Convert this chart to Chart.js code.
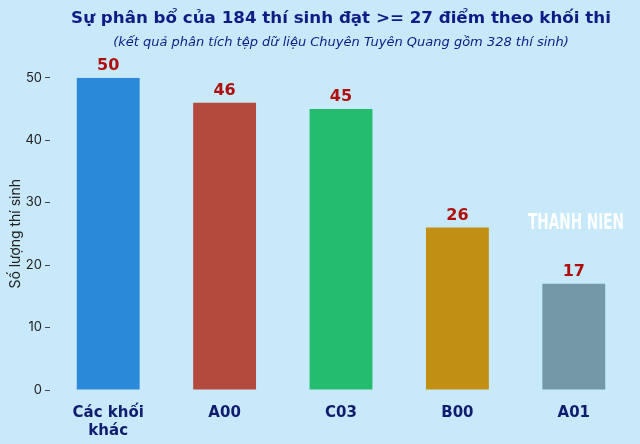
<!DOCTYPE html>
<html><head><meta charset="utf-8">
<script src="https://cdn.jsdelivr.net/npm/chart.js@4/dist/chart.umd.min.js"></script>
<style>html,body{margin:0;padding:0;background:#c7e9f9;}#w{width:640px;height:444px;}</style>
</head><body><div id="w"><canvas id="c"></canvas></div>
<script>
const categories = [['Các khối','khác'], 'A00', 'C03', 'B00', 'A01'];
const counts = [50, 46, 45, 26, 17];
const barColors = ['#2a8ad9', '#b4493d', '#24bd6d', '#c08f14', '#7598a9'];
const yTicks = [0, 10, 20, 30, 40, 50];
const titleText = 'Sự phân bổ của 184 thí sinh đạt >= 27 điểm theo khối thi';
const subtitleText = '(kết quả phân tích tệp dữ liệu Chuyên Tuyên Quang gồm 328 thí sinh)';

const valueLabels = {
  id: 'valueLabels',
  afterDatasetsDraw(chart) {
    const ctx = chart.ctx;
    const meta = chart.getDatasetMeta(0);
    ctx.save();
    ctx.font = 'bold 16px "DejaVu Sans"';
    ctx.fillStyle = '#b00d0d';
    ctx.textAlign = 'center';
    ctx.textBaseline = 'bottom';
    meta.data.forEach((bar, i) => {
      ctx.fillText(String(counts[i]), bar.x, bar.y - 4);
    });
    // watermark
    const a = chart.chartArea;
    ctx.font = 'bold 22px "DejaVu Sans Condensed"';
    ctx.fillStyle = 'rgba(255,255,255,0.95)';
    ctx.textAlign = 'center';
    ctx.textBaseline = 'middle';
    ctx.fillText('THANH NIEN', a.right - 56, chart.scales.y.getPixelForValue(26.7), 96);
    ctx.restore();
  }
};

new Chart(document.getElementById('c'), {
  type: 'bar',
  data: {
    labels: categories,
    datasets: [{ data: counts, backgroundColor: barColors, barPercentage: 0.54, categoryPercentage: 1 }]
  },
  options: {
    responsive: true, maintainAspectRatio: false, animation: false,
    layout: { padding: { left: 7, right: 8, top: 7, bottom: -2 } },
    plugins: {
      legend: { display: false }, tooltip: { enabled: false },
      title: { display: true, text: titleText, fullSize: false, color: '#101c86',
        font: { family: 'DejaVu Sans', size: 16.7, weight: 'bold' }, padding: { top: 2, bottom: 6 } },
      subtitle: { display: true, text: subtitleText, fullSize: false, color: '#101c86',
        font: { family: 'DejaVu Sans', size: 13, style: 'italic' }, padding: { top: 0, bottom: 27 } }
    },
    scales: {
      x: {
        grid: { display: false }, border: { display: false },
        ticks: { color: '#101c6e', font: { family: 'DejaVu Sans', size: 15, weight: 'bold' }, padding: 6, maxRotation: 0 }
      },
      y: {
        min: 0, max: 50,
        afterBuildTicks(s) { s.ticks = yTicks.map(v => ({ value: v })); },
        grid: { display: true, drawOnChartArea: false, drawTicks: true, tickLength: 5, tickColor: '#444', lineWidth: 1 },
        border: { display: false },
        ticks: { color: '#222', font: { family: 'Inter', size: 13 }, padding: 3 },
        title: { display: true, text: 'Số lượng thí sinh', color: '#222', font: { family: 'Inter', size: 14 }, padding: { top: 0, bottom: 4 } },
        afterFit(s) { s.width = 43; }
      }
    }
  },
  plugins: [valueLabels]
});
</script></body></html>
